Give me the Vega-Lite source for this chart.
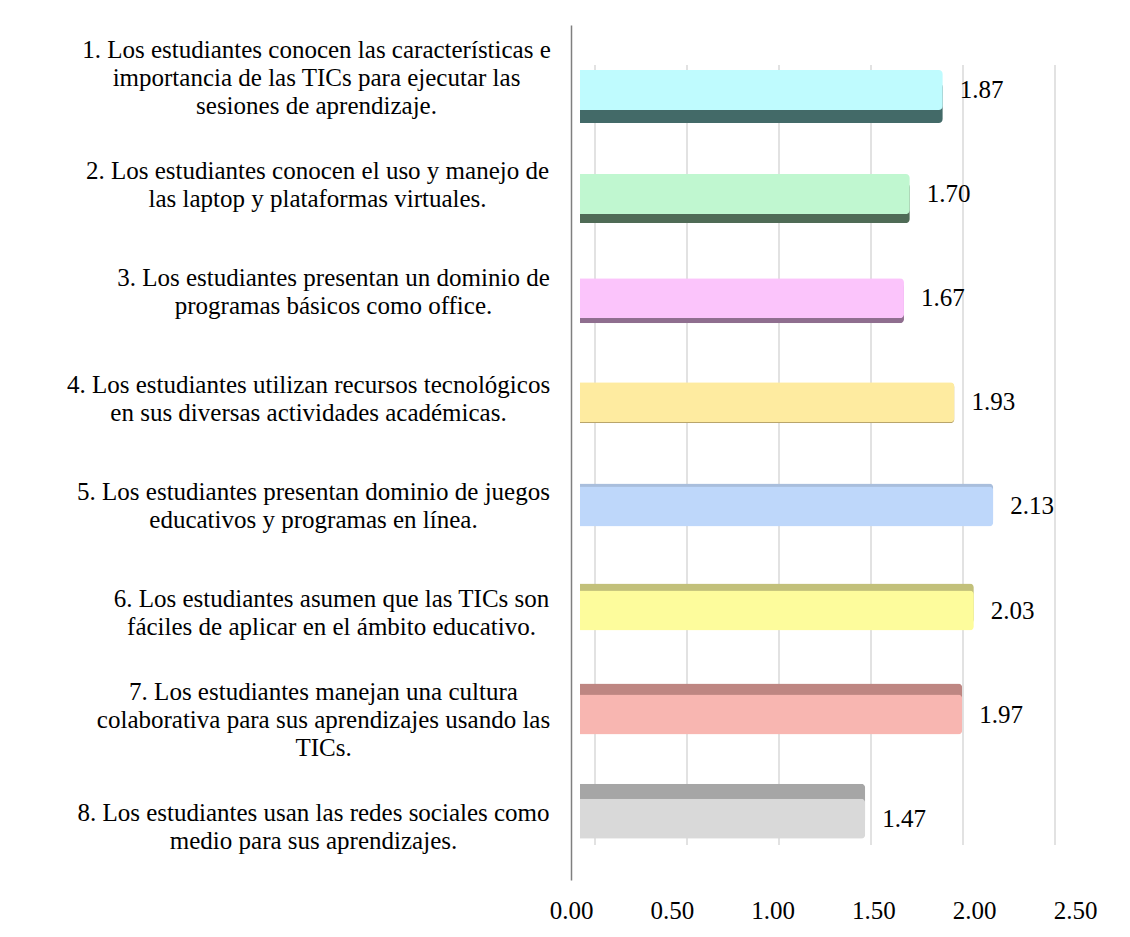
{
  "$schema": "https://vega.github.io/schema/vega-lite/v6.json",
  "width": 504,
  "height": 855,
  "autosize": "none",
  "padding": {"left": 571, "top": 25, "right": 55, "bottom": 57},
  "background": "white",
  "config": {"view": {"stroke": null}, "font": "Liberation Serif"},
  "datasets": {
    "items": [
      {"cat": "1. Los estudiantes conocen las características e|importancia de las TICs para ejecutar las|sesiones de aprendizaje.", "value": 1.87},
      {"cat": "2. Los estudiantes conocen el uso y manejo de|las laptop y plataformas virtuales.", "value": 1.70},
      {"cat": "3. Los estudiantes presentan un dominio de|programas básicos como office.", "value": 1.67},
      {"cat": "4. Los estudiantes utilizan recursos tecnológicos|en sus diversas actividades académicas.", "value": 1.93},
      {"cat": "5. Los estudiantes presentan dominio de juegos|educativos y programas en línea.", "value": 2.13},
      {"cat": "6. Los estudiantes asumen que las TICs son|fáciles de aplicar en el ámbito educativo.", "value": 2.03},
      {"cat": "7. Los estudiantes manejan una cultura|colaborativa para sus aprendizajes usando las|TICs.", "value": 1.97},
      {"cat": "8. Los estudiantes usan las redes sociales como|medio para sus aprendizajes.", "value": 1.47}
    ],
    "grid": [{"g": 0}, {"g": 0.5}, {"g": 1}, {"g": 1.5}, {"g": 2}, {"g": 2.5}]
  },
  "resolve": {"scale": {"x": "independent", "y": "independent", "color": "independent"}},
  "layer": [
    {
      "data": {"name": "grid"},
      "mark": {"type": "rule", "stroke": "#D9D9D9", "strokeWidth": 1.5},
      "encoding": {
        "x": {"field": "g", "type": "quantitative", "scale": {"domain": [0, 2.5], "range": [24, 484]}, "axis": null},
        "y": {"datum": 0, "type": "quantitative", "scale": {"domain": [0, 1], "range": [820, 40]}, "axis": null},
        "y2": {"datum": 1}
      }
    },
    {
      "data": {"name": "items"},
      "mark": {"type": "bar", "opacity": 0},
      "encoding": {
        "x": {
          "field": "value", "type": "quantitative",
          "scale": {"domain": [0, 2.5], "nice": false, "zero": true},
          "axis": {
            "title": null, "values": [0, 0.5, 1, 1.5, 2, 2.5], "format": ".2f",
            "domain": false, "ticks": false, "grid": false,
            "labelFont": "Liberation Serif", "labelFontSize": 25, "labelColor": "#000000",
            "labelPadding": 18, "labelFlush": false, "labelOverlap": false
          }
        },
        "y": {
          "field": "cat", "type": "nominal", "sort": null,
          "scale": {"padding": 0},
          "axis": {
            "title": null, "ticks": false, "grid": false,
            "domain": true, "domainColor": "#7F7F7F", "domainWidth": 1.5,
            "labelExpr": "split(datum.label, '|')",
            "labelFont": "Liberation Serif", "labelFontSize": 25, "labelColor": "#000000",
            "labelLineHeight": 28, "labelLimit": 0, "labelAlign": "center", "labelBaseline": "middle",
            "labelOffset": {
              "condition": [
                {"test": "substring(datum.value, 0, 2) == '1.'", "value": -28},
                {"test": "substring(datum.value, 0, 2) == '7.'", "value": -28}
              ],
              "value": -14
            },
            "labelPadding": {
              "condition": [
                {"test": "substring(datum.value, 0, 2) == '1.'", "value": 255},
                {"test": "substring(datum.value, 0, 2) == '2.'", "value": 254},
                {"test": "substring(datum.value, 0, 2) == '3.'", "value": 238},
                {"test": "substring(datum.value, 0, 2) == '4.'", "value": 263},
                {"test": "substring(datum.value, 0, 2) == '5.'", "value": 258},
                {"test": "substring(datum.value, 0, 2) == '6.'", "value": 240},
                {"test": "substring(datum.value, 0, 2) == '7.'", "value": 248}
              ],
              "value": 258
            }
          }
        }
      }
    },
    {
      "data": {"name": "items"},
      "mark": {"type": "bar", "size": 40, "cornerRadiusEnd": 4},
      "encoding": {
        "x": {"field": "value", "type": "quantitative", "scale": {"domain": [0, 2.5], "range": [9, 494]}, "axis": null},
        "y": {"field": "cat", "type": "nominal", "sort": null, "scale": {"padding": 0, "range": [27.95, 828.75]}, "axis": null},
        "color": {
          "field": "cat", "type": "nominal", "legend": null,
          "scale": {
            "domain": [
              "1. Los estudiantes conocen las características e|importancia de las TICs para ejecutar las|sesiones de aprendizaje.",
              "2. Los estudiantes conocen el uso y manejo de|las laptop y plataformas virtuales.",
              "3. Los estudiantes presentan un dominio de|programas básicos como office.",
              "4. Los estudiantes utilizan recursos tecnológicos|en sus diversas actividades académicas.",
              "5. Los estudiantes presentan dominio de juegos|educativos y programas en línea.",
              "6. Los estudiantes asumen que las TICs son|fáciles de aplicar en el ámbito educativo.",
              "7. Los estudiantes manejan una cultura|colaborativa para sus aprendizajes usando las|TICs.",
              "8. Los estudiantes usan las redes sociales como|medio para sus aprendizajes."
            ],
            "range": ["#436A68", "#4F6B56", "#8F6E8F", "#B8A46A", "#A9BEDC", "#C2C07A", "#BE8682", "#A6A6A6"]
          }
        }
      }
    },
    {
      "data": {"name": "items"},
      "mark": {"type": "bar", "size": 40, "cornerRadiusEnd": 4},
      "encoding": {
        "x": {"field": "value", "type": "quantitative", "scale": {"domain": [0, 2.5], "range": [9, 494]}, "axis": null},
        "y": {"field": "cat", "type": "nominal", "sort": null, "scale": {"padding": 0, "range": [12.95, 845.75]}, "axis": null},
        "color": {
          "field": "cat", "type": "nominal", "legend": null,
          "scale": {
            "domain": [
              "1. Los estudiantes conocen las características e|importancia de las TICs para ejecutar las|sesiones de aprendizaje.",
              "2. Los estudiantes conocen el uso y manejo de|las laptop y plataformas virtuales.",
              "3. Los estudiantes presentan un dominio de|programas básicos como office.",
              "4. Los estudiantes utilizan recursos tecnológicos|en sus diversas actividades académicas.",
              "5. Los estudiantes presentan dominio de juegos|educativos y programas en línea.",
              "6. Los estudiantes asumen que las TICs son|fáciles de aplicar en el ámbito educativo.",
              "7. Los estudiantes manejan una cultura|colaborativa para sus aprendizajes usando las|TICs.",
              "8. Los estudiantes usan las redes sociales como|medio para sus aprendizajes."
            ],
            "range": ["#BFFBFE", "#C0F7D0", "#FBC4FB", "#FEEBA0", "#BED7FA", "#FDFC9C", "#F8B6B1", "#D9D9D9"]
          }
        }
      }
    },
    {
      "data": {"name": "items"},
      "mark": {"type": "text", "align": "left", "baseline": "middle", "dx": 17, "font": "Liberation Serif", "fontSize": 25, "color": "#000000"},
      "encoding": {
        "x": {"field": "value", "type": "quantitative", "scale": {"domain": [0, 2.5], "range": [9, 494]}, "axis": null},
        "y": {"field": "cat", "type": "nominal", "sort": null, "scale": {"type": "band", "padding": 0, "range": [12.95, 845.75]}, "axis": null},
        "text": {"field": "value", "type": "quantitative", "format": ".2f"}
      }
    }
  ]
}
